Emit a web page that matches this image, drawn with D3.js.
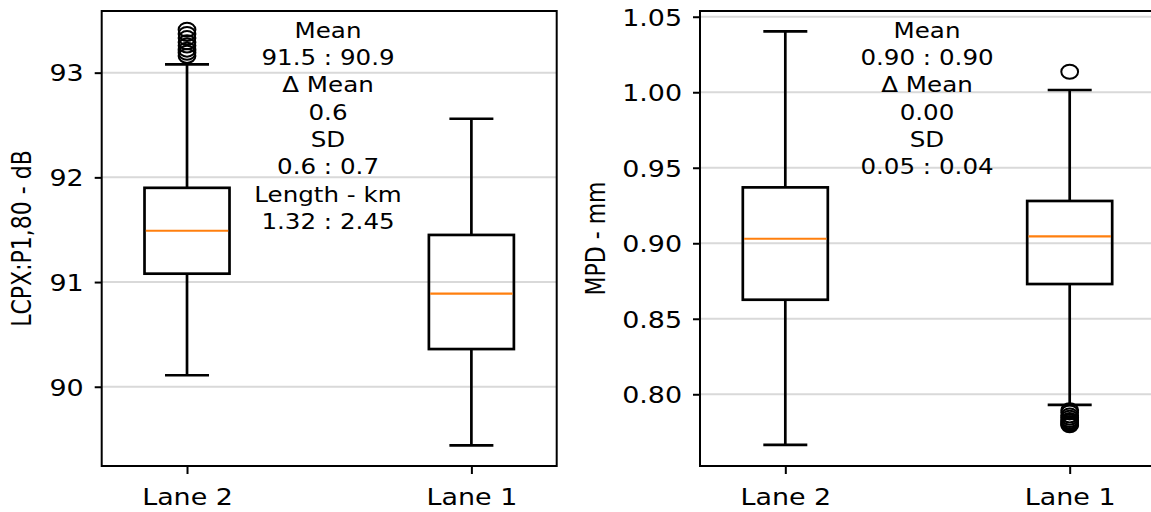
<!DOCTYPE html>
<html>
<head>
<meta charset="utf-8">
<script src="https://cdn.jsdelivr.net/npm/d3@7"></script>
<style>
  body { margin: 0; background: #fff; }
  text { font-family: "DejaVu Sans", sans-serif; fill: #000; }
</style>
</head>
<body>
<script>
var lanes = ["Lane 2", "Lane 1"];

// LCPX box stats, one entry per lane
var lcpxLow = [90.11, 89.44];
var lcpxQ1 = [91.08, 90.36];
var lcpxMedian = [91.49, 90.89];
var lcpxQ3 = [91.90, 91.45];
var lcpxHigh = [93.08, 92.56];
var lcpxOutliers = [[93.16, 93.19, 93.22, 93.26, 93.29, 93.33, 93.37, 93.41], []];
var lcpxTicks = [90, 91, 92, 93];
var lcpxNotes = ["Mean", "91.5 : 90.9", "\u0394 Mean", "0.6", "SD", "0.6 : 0.7", "Length - km", "1.32 : 2.45"];

// MPD box stats
var mpdLow = [0.7665, 0.793];
var mpdQ1 = [0.8626, 0.873];
var mpdMedian = [0.903, 0.9045];
var mpdQ3 = [0.937, 0.928];
var mpdHigh = [1.0403, 1.0015];
var mpdOutliers = [[], [1.0136, 0.7895, 0.788, 0.786, 0.7845, 0.783, 0.782, 0.781, 0.7802, 0.7795]];
var mpdTicks = [0.80, 0.85, 0.90, 0.95, 1.00, 1.05];
var mpdNotes = ["Mean", "0.90 : 0.90", "\u0394 Mean", "0.00", "SD", "0.05 : 0.04"];

var width = 1151;
var height = 512;
var sx = 1.17; // picture is stretched sideways

var svg = d3.select("body")
  .append("svg")
  .attr("width", width)
  .attr("height", height);

var panels = [
  { left: 101.7, domain: [89.243, 93.589], ticks: lcpxTicks, fmt: d3.format("d"),
    low: lcpxLow, q1: lcpxQ1, med: lcpxMedian, q3: lcpxQ3, high: lcpxHigh,
    out: lcpxOutliers, notes: lcpxNotes, noteX: 328, label: "LCPX:P1,80 - dB", labelX: 31 },
  { left: 700, domain: [0.7525, 1.0538], ticks: mpdTicks, fmt: d3.format(".2f"),
    low: mpdLow, q1: mpdQ1, med: mpdMedian, q3: mpdQ3, high: mpdHigh,
    out: mpdOutliers, notes: mpdNotes, noteX: 927, label: "MPD - mm", labelX: 605 }
];

var plotTop = 11, plotBottom = 466, panelW = 455;
var boxW = 85, capW = 44;

panels.forEach(drawPanel);

function drawPanel(p) {
  var x = d3.scaleLinear().domain([0.7, 2.3]).range([p.left, p.left + panelW]);
  var y = d3.scaleLinear().domain(p.domain).range([plotBottom, plotTop]);
  var pos = [1, 2];

  // grid
  svg.append("g").selectAll("line")
    .data(p.ticks)
    .enter()
    .append("line")
    .attr("x1", p.left)
    .attr("x2", p.left + panelW)
    .attr("y1", function(d) { return y(d); })
    .attr("y2", function(d) { return y(d); })
    .attr("stroke", "#d9d9d9")
    .attr("stroke-width", 2);

  // annotation text
  svg.append("g").selectAll("text")
    .data(p.notes)
    .enter()
    .append("text")
    .attr("transform", function(d, i) {
      return "translate(" + p.noteX + "," + (37.7 + i * 27.3) + ") scale(" + sx + ",1)";
    })
    .attr("text-anchor", "middle")
    .attr("font-size", "21px")
    .text(function(d) { return d; });

  var g = svg.append("g")
    .attr("fill", "none")
    .attr("stroke", "#000")
    .attr("stroke-width", 2.7);

  // whiskers
  g.selectAll(".wlo").data(pos).enter().append("line")
    .attr("x1", function(d) { return x(d); })
    .attr("x2", function(d) { return x(d); })
    .attr("y1", function(d, i) { return y(p.q1[i]); })
    .attr("y2", function(d, i) { return y(p.low[i]); });
  g.selectAll(".whi").data(pos).enter().append("line")
    .attr("x1", function(d) { return x(d); })
    .attr("x2", function(d) { return x(d); })
    .attr("y1", function(d, i) { return y(p.q3[i]); })
    .attr("y2", function(d, i) { return y(p.high[i]); });

  // caps
  g.selectAll(".clo").data(pos).enter().append("line")
    .attr("x1", function(d) { return x(d) - capW / 2; })
    .attr("x2", function(d) { return x(d) + capW / 2; })
    .attr("y1", function(d, i) { return y(p.low[i]); })
    .attr("y2", function(d, i) { return y(p.low[i]); });
  g.selectAll(".chi").data(pos).enter().append("line")
    .attr("x1", function(d) { return x(d) - capW / 2; })
    .attr("x2", function(d) { return x(d) + capW / 2; })
    .attr("y1", function(d, i) { return y(p.high[i]); })
    .attr("y2", function(d, i) { return y(p.high[i]); });

  // boxes
  g.selectAll("rect").data(pos).enter().append("rect")
    .attr("x", function(d) { return x(d) - boxW / 2; })
    .attr("width", boxW)
    .attr("y", function(d, i) { return y(p.q3[i]); })
    .attr("height", function(d, i) { return y(p.q1[i]) - y(p.q3[i]); });

  // medians
  svg.append("g").selectAll("line").data(pos).enter().append("line")
    .attr("x1", function(d) { return x(d) - boxW / 2 + 1.3; })
    .attr("x2", function(d) { return x(d) + boxW / 2 - 1.3; })
    .attr("y1", function(d, i) { return y(p.med[i]); })
    .attr("y2", function(d, i) { return y(p.med[i]); })
    .attr("stroke", "#ff7f0e")
    .attr("stroke-width", 2.2);

  // fliers
  var fliers = [];
  p.out.forEach(function(vals, i) {
    vals.forEach(function(v) { fliers.push({ pos: pos[i], v: v }); });
  });
  svg.append("g").selectAll("ellipse").data(fliers).enter().append("ellipse")
    .attr("cx", function(d) { return x(d.pos); })
    .attr("cy", function(d) { return y(d.v); })
    .attr("rx", 8.4)
    .attr("ry", 7)
    .attr("fill", "none")
    .attr("stroke", "#000")
    .attr("stroke-width", 2);

  // frame
  svg.append("rect")
    .attr("x", p.left)
    .attr("y", plotTop)
    .attr("width", panelW)
    .attr("height", plotBottom - plotTop)
    .attr("fill", "none")
    .attr("stroke", "#000")
    .attr("stroke-width", 2);

  // y axis
  var yAxis = svg.append("g")
    .attr("transform", "translate(" + p.left + ",0)")
    .call(d3.axisLeft(y).tickValues(p.ticks).tickFormat(p.fmt).tickSize(7).tickPadding(11));
  yAxis.select(".domain").remove();
  yAxis.selectAll(".tick line").attr("stroke", "#000").attr("stroke-width", 2);
  yAxis.selectAll(".tick text")
    .attr("font-size", "23px")
    .attr("font-family", "DejaVu Sans, sans-serif")
    .attr("x", -18 / sx)
    .attr("dy", "0.36em")
    .attr("transform", "scale(" + sx + ",1)");

  // x axis
  var xAxis = svg.append("g")
    .attr("transform", "translate(0," + plotBottom + ")")
    .call(d3.axisBottom(x).tickValues(pos).tickFormat(function(d, i) { return lanes[i]; })
      .tickSize(8).tickPadding(8));
  xAxis.select(".domain").remove();
  xAxis.selectAll(".tick line").attr("stroke", "#000").attr("stroke-width", 2);
  xAxis.selectAll(".tick text")
    .attr("font-size", "23px")
    .attr("font-family", "DejaVu Sans, sans-serif")
    .attr("y", 0)
    .attr("dy", 0)
    .attr("transform", "translate(0,39) scale(" + sx + ",1)");

  // y label
  svg.append("text")
    .attr("transform", "translate(" + p.labelX + "," + ((plotTop + plotBottom) / 2) + ") scale(" + sx + ",1) rotate(-90)")
    .attr("text-anchor", "middle")
    .attr("font-size", "22px")
    .text(p.label);
}
</script>
</body>
</html>
